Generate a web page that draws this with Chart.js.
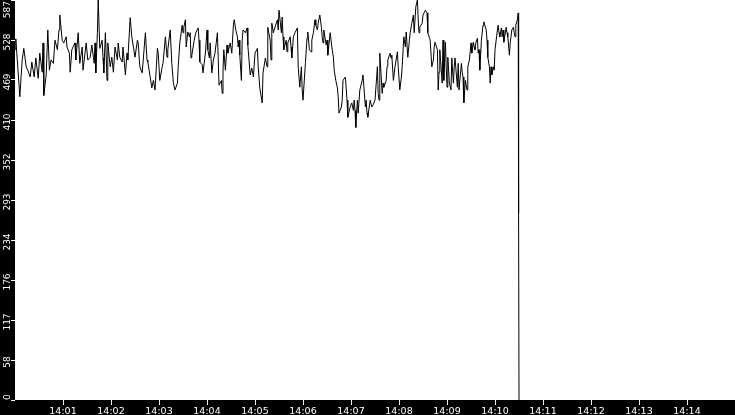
<!DOCTYPE html>
<html>
<head>
<meta charset="utf-8">
<script src="https://cdn.jsdelivr.net/npm/chart.js@4/dist/chart.umd.min.js"></script>
<style>
  html, body { margin: 0; padding: 0; background: #000; }
  #wrap { width: 735px; height: 415px; }
</style>
</head>
<body>
<div id="wrap"><canvas id="chart" width="735" height="415"></canvas></div>
<script>
// seconds after 14:00:00
const times = [
  0,1,4,6,9,11,14,16,19,21,24,26,29,31,34,35,36,39,41,43,45,48,50,53,55,56,59,61,64,65,
  68,69,71,75,76,79,81,84,85,89,91,94,96,99,100,101,103,104,
  106,109,110,111,113,115,116,119,121,123,125,128,129,131,134,135,138,140,141,144,
  146,148,150,153,154,156,159,163,165,166,169,171,173,175,178,179,181,184,185,188,
  190,191,194,196,198,200,203,204,206,209,210,211,
  213,214,216,218,219,220,221,224,226,229,230,231,234,235,238,240,241,243,244,246,
  248,250,253,254,255,258,259,260,261,263,265,266,269,271,273,274,276,278,279,280,
  281,283,284,285,288,290,291,294,296,298,300,303,304,306,309,310,313,315,316,318,
  319,320,321,323,325,328,329,330,333,334,335,336,339,340,341,344,345,346,348,350,
  353,354,356,358,359,360,363,365,366,368,370,371,373,375,376,378,379,381,383,384,
  385,386,389,390,391,394,396,398,399,401,403,404,405,408,409,410,413,415,416,419,
  421,423,424,
  425,426,428,429,431,434,435,438,439,440,441,444,446,448,450,453,454,455,456,459,
  460,461,464,465,466,469,470,471,473,475,478,479,481,483,484,486,488,489,491,493,
  494,496,498,499,501,503,504,505,506,509,510,513,515,516,519,521,523,524,525,528,
  529,530,
  531,534,535,536,538,539,540,541,543,545,546,548,549,550,553,554,555,558,559,560,
  561,563,565,566,568,570,571,573,574,575,576,578,579,580,581,583,584,585,586,589,
  590,591,593,594,595,596,598,599,600,603,604,605,606,608,609,610,611,614,615,616,
  618,619,621,623,624,625,626,628,629,629.5,630
];

const values = [
  514,530,480,445,499,516,489,484,474,496,474,502,472,509,481,524,447,477,543,484,499,494,528,514,543,565,528,524,533,518,
  509,481,514,524,499,539,494,518,484,524,499,503,521,494,524,480,539,587,
  516,528,502,480,539,469,524,489,503,481,518,499,524,503,496,518,477,509,499,561,
  533,518,503,528,524,489,480,539,499,496,474,458,469,455,516,509,469,489,494,533,
  503,514,543,494,465,455,465,489,524,550,539,547,
  558,518,540,533,539,502,506,528,539,546,528,496,492,480,509,543,514,502,524,480,
  499,509,539,503,462,469,450,484,514,484,521,509,524,509,550,558,543,533,518,528,
  506,469,528,543,539,546,521,477,487,474,509,516,489,458,436,480,502,489,547,534,
  528,499,553,539,547,558,543,572,539,562,533,514,528,511,524,533,518,502,533,539,
  546,489,459,489,455,440,494,531,540,514,511,528,539,558,550,543,553,565,547,533,
  524,543,521,528,506,539,518,503,484,469,458,445,421,430,440,469,474,440,415,430,
  436,425,440,
  425,400,440,421,455,469,477,430,440,421,415,440,430,434,440,489,450,440,509,450,
  465,459,469,489,499,509,502,506,469,489,511,489,455,474,489,533,518,540,503,528,
  539,553,565,539,577,587,558,539,547,553,565,572,568,539,528,489,499,518,525,514,
  455,481,
  514,465,528,469,525,489,459,503,465,455,502,465,489,502,459,494,455,494,481,474,
  436,469,455,489,499,524,509,525,518,514,524,531,509,514,484,528,539,550,555,543,
  528,503,489,465,489,477,489,484,514,543,550,539,533,546,533,543,525,547,539,533,
  506,524,543,547,539,533,550,558,568,274,0
];

const xTickLabels = ['14:01','14:02','14:03','14:04','14:05','14:06','14:07',
                     '14:08','14:09','14:10','14:11','14:12','14:13','14:14'];
const yTickLabels = ['0','58','117','176','234','293','352','410','469','528','587'];

const xMax = 900;   // 15 minutes shown
const yMax = 587;

// black frame, white plot area
const framePlugin = {
  id: 'frame',
  beforeDraw(chart) {
    const ctx = chart.ctx;
    const a = chart.chartArea;
    ctx.save();
    ctx.fillStyle = '#000';
    ctx.fillRect(0, 0, chart.width, chart.height);
    ctx.fillStyle = '#fff';
    ctx.fillRect(a.left, a.top, a.right - a.left, a.bottom - a.top);
    ctx.restore();
  }
};

// rotated value labels in the left strip
const yLabelPlugin = {
  id: 'yLabels',
  afterDraw(chart) {
    const ys = chart.scales.y;
    const ctx = chart.ctx;
    ctx.save();
    ctx.fillStyle = '#fff';
    ctx.font = '9px "DejaVu Sans"';
    ctx.textAlign = 'center';
    ctx.textBaseline = 'alphabetic';
    ys.ticks.forEach((t, i) => {
      const label = yTickLabels[i];
      const w = ctx.measureText(label).width;
      let c = ys.getPixelForValue(t.value) + 2;
      c = Math.max(c, 1 + w / 2);
      c = Math.min(c, ys.bottom - w / 2);
      ctx.save();
      ctx.translate(9.5, c);
      ctx.rotate(-Math.PI / 2);
      ctx.fillText(label, 0, 0);
      ctx.restore();
    });
    ctx.restore();
  }
};

const ctx = document.getElementById('chart').getContext('2d');
const chart = new Chart(ctx, {
  type: 'line',
  data: {
    datasets: [{
      data: times.map((t, i) => ({ x: t, y: values[i] })),
      borderColor: '#000',
      borderWidth: 1,
      pointRadius: 0,
      tension: 0,
      fill: false
    }]
  },
  options: {
    responsive: false,
    animation: false,
    devicePixelRatio: 1,
    events: [],
    layout: { padding: 0 },
    plugins: { legend: { display: false }, tooltip: { enabled: false } },
    scales: {
      x: {
        type: 'linear',
        min: 0,
        max: xMax,
        afterBuildTicks: s => { s.ticks = xTickLabels.map((l, i) => ({ value: (i + 1) * 60 })); },
        afterFit: s => { s.height = 15; },
        border: { display: false },
        grid: { drawOnChartArea: false, color: '#fff', tickLength: 5, lineWidth: 1 },
        ticks: {
          color: '#fff',
          font: { family: 'DejaVu Sans', size: 9.5 },
          padding: 1,
          maxRotation: 0,
          autoSkip: false,
          callback: (v, i) => xTickLabels[i]
        }
      },
      y: {
        type: 'linear',
        min: 0,
        max: yMax,
        afterBuildTicks: s => { s.ticks = yTickLabels.map((l, i) => ({ value: yMax * i / 10 })); },
        afterFit: s => { s.width = 15; },
        border: { display: false },
        grid: { drawOnChartArea: false, color: '#fff', tickLength: 4, lineWidth: 1 },
        ticks: { display: false }
      }
    }
  },
  plugins: [framePlugin, yLabelPlugin]
});
</script>
</body>
</html>
